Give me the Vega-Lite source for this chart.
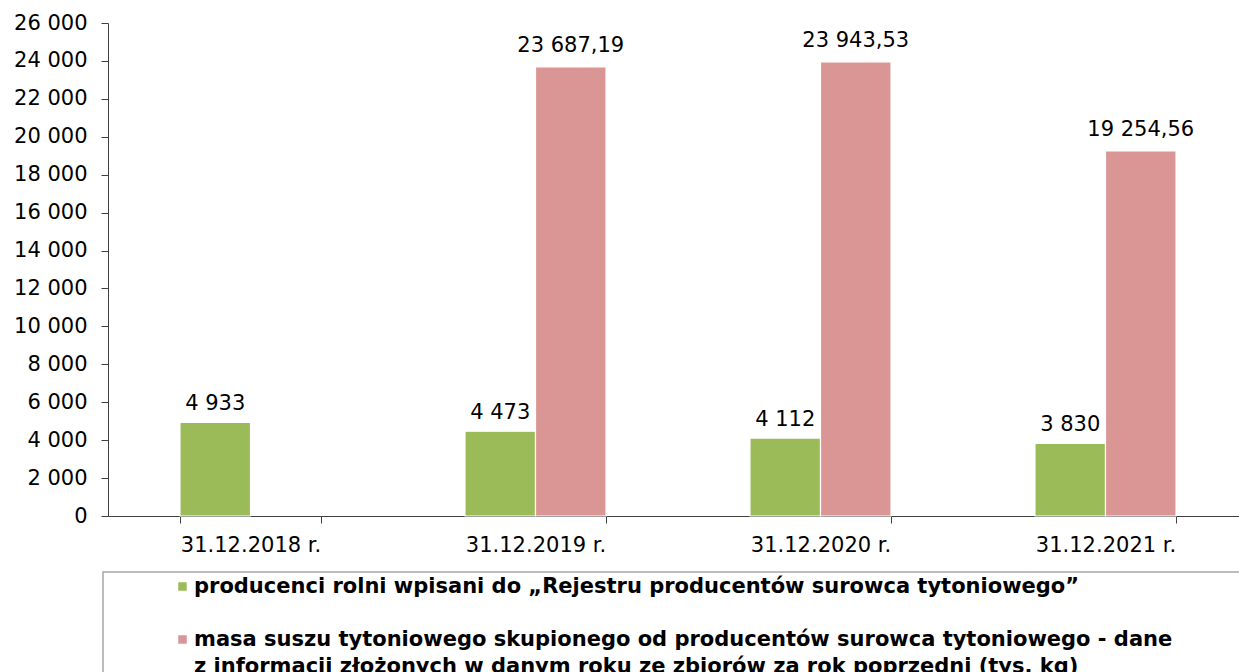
{
  "$schema": "https://vega.github.io/schema/vega-lite/v6.json",
  "width": 1131,
  "height": 493,
  "autosize": "none",
  "padding": {"left": 108, "top": 23, "right": 0, "bottom": 156},
  "background": "white",
  "config": {
    "locale": {"number": {"decimal": ",", "thousands": " ", "grouping": [3], "currency": ["", ""]}},
    "view": {"stroke": null},
    "font": "DejaVu Sans",
    "style": {"guide-label": {"lineHeight": 27}},
    "legend": {
      "orient": "none",
      "legendX": -5,
      "legendY": 549,
      "padding": 4,
      "strokeColor": "#a6a6a6",
      "strokeWidth": 1.5,
      "symbolType": "square",
      "symbolSize": 72,
      "symbolStrokeWidth": 0,
      "symbolOffset": 65,
      "labelOffset": 1,
      "labelFont": "DejaVu Sans",
      "labelFontSize": 21,
      "labelFontWeight": "bold",
      "labelColor": "black",
      "labelLimit": 1400,
      "rowPadding": 31
    }
  },
  "data": {
    "values": [
      {"date": "31.12.2018 r.", "series": "producenci rolni wpisani do „Rejestru producentów surowca tytoniowego”", "value": 4933},
      {"date": "31.12.2019 r.", "series": "producenci rolni wpisani do „Rejestru producentów surowca tytoniowego”", "value": 4473},
      {"date": "31.12.2020 r.", "series": "producenci rolni wpisani do „Rejestru producentów surowca tytoniowego”", "value": 4112},
      {"date": "31.12.2021 r.", "series": "producenci rolni wpisani do „Rejestru producentów surowca tytoniowego”", "value": 3830},
      {"date": "31.12.2019 r.", "series": "masa suszu tytoniowego skupionego od producentów surowca tytoniowego - dane z informacji złożonych w danym roku ze zbiorów za rok poprzedni (tys. kg)", "value": 23687.19},
      {"date": "31.12.2020 r.", "series": "masa suszu tytoniowego skupionego od producentów surowca tytoniowego - dane z informacji złożonych w danym roku ze zbiorów za rok poprzedni (tys. kg)", "value": 23943.53},
      {"date": "31.12.2021 r.", "series": "masa suszu tytoniowego skupionego od producentów surowca tytoniowego - dane z informacji złożonych w danym roku ze zbiorów za rok poprzedni (tys. kg)", "value": 19254.56}
    ]
  },
  "encoding": {
    "x": {
      "field": "date",
      "type": "nominal",
      "sort": null,
      "scale": {"range": [0, 1140], "paddingInner": 0.505, "paddingOuter": 0.2525},
      "axis": {
        "title": null,
        "labelAngle": 0,
        "tickBand": "extent",
        "domainColor": "#404040",
        "tickColor": "#404040",
        "tickSize": 7,
        "labelPadding": 11,
        "labelFont": "DejaVu Sans",
        "labelFontSize": 21,
        "labelColor": "black",
        "labelOverlap": false
      }
    },
    "xOffset": {
      "field": "series",
      "sort": null,
      "scale": {"domain": [
        "producenci rolni wpisani do „Rejestru producentów surowca tytoniowego”",
        "masa suszu tytoniowego skupionego od producentów surowca tytoniowego - dane z informacji złożonych w danym roku ze zbiorów za rok poprzedni (tys. kg)"
      ]}
    },
    "y": {
      "field": "value",
      "type": "quantitative",
      "scale": {"domain": [0, 26000], "nice": false},
      "axis": {
        "title": null,
        "values": [0, 2000, 4000, 6000, 8000, 10000, 12000, 14000, 16000, 18000, 20000, 22000, 24000, 26000],
        "format": ",.0f",
        "grid": false,
        "domainColor": "#404040",
        "tickColor": "#404040",
        "tickSize": 7,
        "labelPadding": 14,
        "labelFont": "DejaVu Sans",
        "labelFontSize": 21,
        "labelColor": "black",
        "labelOverlap": false
      }
    }
  },
  "layer": [
    {
      "mark": {"type": "bar", "stroke": "white", "strokeWidth": 1.2},
      "encoding": {
        "color": {
          "field": "series",
          "type": "nominal",
          "sort": null,
          "scale": {
            "domain": [
              "producenci rolni wpisani do „Rejestru producentów surowca tytoniowego”",
              "masa suszu tytoniowego skupionego od producentów surowca tytoniowego - dane z informacji złożonych w danym roku ze zbiorów za rok poprzedni (tys. kg)"
            ],
            "range": ["#9BBB59", "#D99694"]
          },
          "legend": {
            "title": null,
            "labelExpr": "indexof(datum.label, ' - dane ') > 0 ? [substring(datum.label, 0, indexof(datum.label, ' - dane ') + 7) + '\u2800\u2800\u2800\u2800\u2800\u2800\u2800\u2800', substring(datum.label, indexof(datum.label, ' - dane ') + 8)] : datum.label"
          }
        }
      }
    },
    {
      "transform": [{"filter": "datum.value < 10000"}],
      "mark": {"type": "text", "baseline": "alphabetic", "dy": -12, "fontSize": 21, "color": "black", "font": "DejaVu Sans"},
      "encoding": {"text": {"field": "value", "type": "quantitative", "format": ","}}
    },
    {
      "transform": [{"filter": "datum.value >= 10000"}],
      "mark": {"type": "text", "baseline": "alphabetic", "dy": -15, "fontSize": 21, "color": "black", "font": "DejaVu Sans"},
      "encoding": {"text": {"field": "value", "type": "quantitative", "format": ",.2f"}}
    }
  ]
}
